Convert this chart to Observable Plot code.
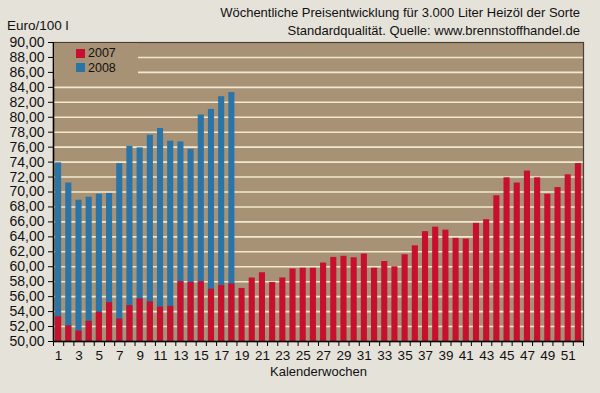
<!DOCTYPE html>
<html>
<head>
<meta charset="utf-8">
<script src="https://cdn.jsdelivr.net/npm/d3@7"></script>
<script src="https://cdn.jsdelivr.net/npm/@observablehq/plot@0.6"></script>
<style>
  html, body { margin: 0; padding: 0; background: #e5e2da; }
  #wrap { position: relative; width: 600px; height: 393px; font-family: "Liberation Sans", Arial, sans-serif; color: #111; }
  #title { position: absolute; right: 20px; top: 4px; text-align: right; font-size: 13px; line-height: 18px; }
  #ylab { position: absolute; left: 7px; top: 18px; font-size: 13.5px; }
  #legend { position: absolute; left: 54px; top: 43px; width: 84px; height: 36px; background: #a89276; font-size: 12.5px; }
  .item { position: absolute; left: 22px; display: flex; align-items: center; line-height: 12px; height: 12px; }
  .sw { width: 9px; height: 9px; margin-right: 3px; }
</style>
</head>
<body>
<div id="wrap">
  <div id="chart"></div>
  <div id="title">Wöchentliche Preisentwicklung für 3.000 Liter Heizöl der Sorte<br>Standardqualität. Quelle: www.brennstoffhandel.de</div>
  <div id="ylab">Euro/100 l</div>
  <div id="legend">
    <div class="item" style="top:4px"><span class="sw" style="background:#c8102e"></span>2007</div>
    <div class="item" style="top:18.5px"><span class="sw" style="background:#2a74a8"></span>2008</div>
  </div>
</div>
<script>
const weeks2007 = d3.range(1, 53);
const values2007 = [53.3, 52.1, 51.4, 52.7, 53.9, 55.2, 53.0, 54.8, 55.7, 55.3,
  54.6, 54.7, 58.0, 57.9, 58.0, 57.0, 57.5, 57.7, 57.1, 58.5,
  59.2, 57.9, 58.5, 59.7, 59.8, 59.8, 60.5, 61.25, 61.4, 61.2,
  61.7, 59.8, 60.7, 60.0, 61.6, 62.8, 64.7, 65.3, 64.9, 63.8,
  63.7, 65.8, 66.3, 69.5, 71.9, 71.2, 72.8, 71.9, 69.7, 70.6,
  72.3, 73.8];
const weeks2008 = d3.range(1, 19);
const values2008 = [73.9, 71.2, 68.9, 69.3, 69.7, 69.8, 73.8, 76.1, 75.9, 77.6,
  78.5, 76.8, 76.7, 75.7, 80.3, 81.05, 82.75, 83.3];
const yTicks = d3.range(50, 91, 2);
const gridValues = d3.range(52, 89, 2);
const xLabelWeeks = d3.range(1, 52, 2);
const xTickEdges = d3.range(0.5, 53, 1);

const d2007 = weeks2007.map((w, i) => ({week: w, value: values2007[i]}));
const d2008 = weeks2008.map((w, i) => ({week: w, value: values2008[i]}));
const half = 0.3;

const chart = Plot.plot({
  width: 600,
  height: 393,
  marginLeft: 53,
  marginRight: 17,
  marginTop: 42,
  marginBottom: 52,
  style: {background: "transparent", fontFamily: "Liberation Sans, Arial, sans-serif", fontSize: "13px", color: "#111"},
  x: {domain: [0.5, 52.5], axis: null},
  y: {domain: [50, 90], axis: null},
  marks: [
    Plot.frame({fill: "#a89276", stroke: null}),
    Plot.ruleY(gridValues, {stroke: "#f2e8cf", strokeWidth: 1.6}),
    Plot.rectY(d2008, {x1: d => d.week - half, x2: d => d.week + half, y1: 50, y2: "value", fill: "#2a74a8"}),
    Plot.rectY(d2007, {x1: d => d.week - half, x2: d => d.week + half, y1: 50, y2: "value", fill: "#c8102e"}),
    Plot.frame({stroke: "#4a4236", strokeWidth: 1.2}),
    Plot.axisY({ticks: yTicks, tickFormat: d => d.toFixed(2).replace(".", ","), tickSize: 5, tickPadding: 4, label: null, fontSize: 14, stroke: "#000"}),
    Plot.axisX({ticks: xTickEdges, tickFormat: () => "", tickSize: 5, label: null, stroke: "#000"}),
    Plot.axisX({ticks: xLabelWeeks, tickSize: 0, tickPadding: 9, label: null, fontSize: 13.5}),
    Plot.ruleX([0.5], {stroke: "#000", strokeWidth: 1.5}),
    Plot.ruleY([50], {stroke: "#000", strokeWidth: 1.5}),
    Plot.text(["Kalenderwochen"], {frameAnchor: "bottom", dy: 34, fontSize: 13, fill: "#111"})
  ]
});
document.getElementById("chart").appendChild(chart);
</script>
</body>
</html>
